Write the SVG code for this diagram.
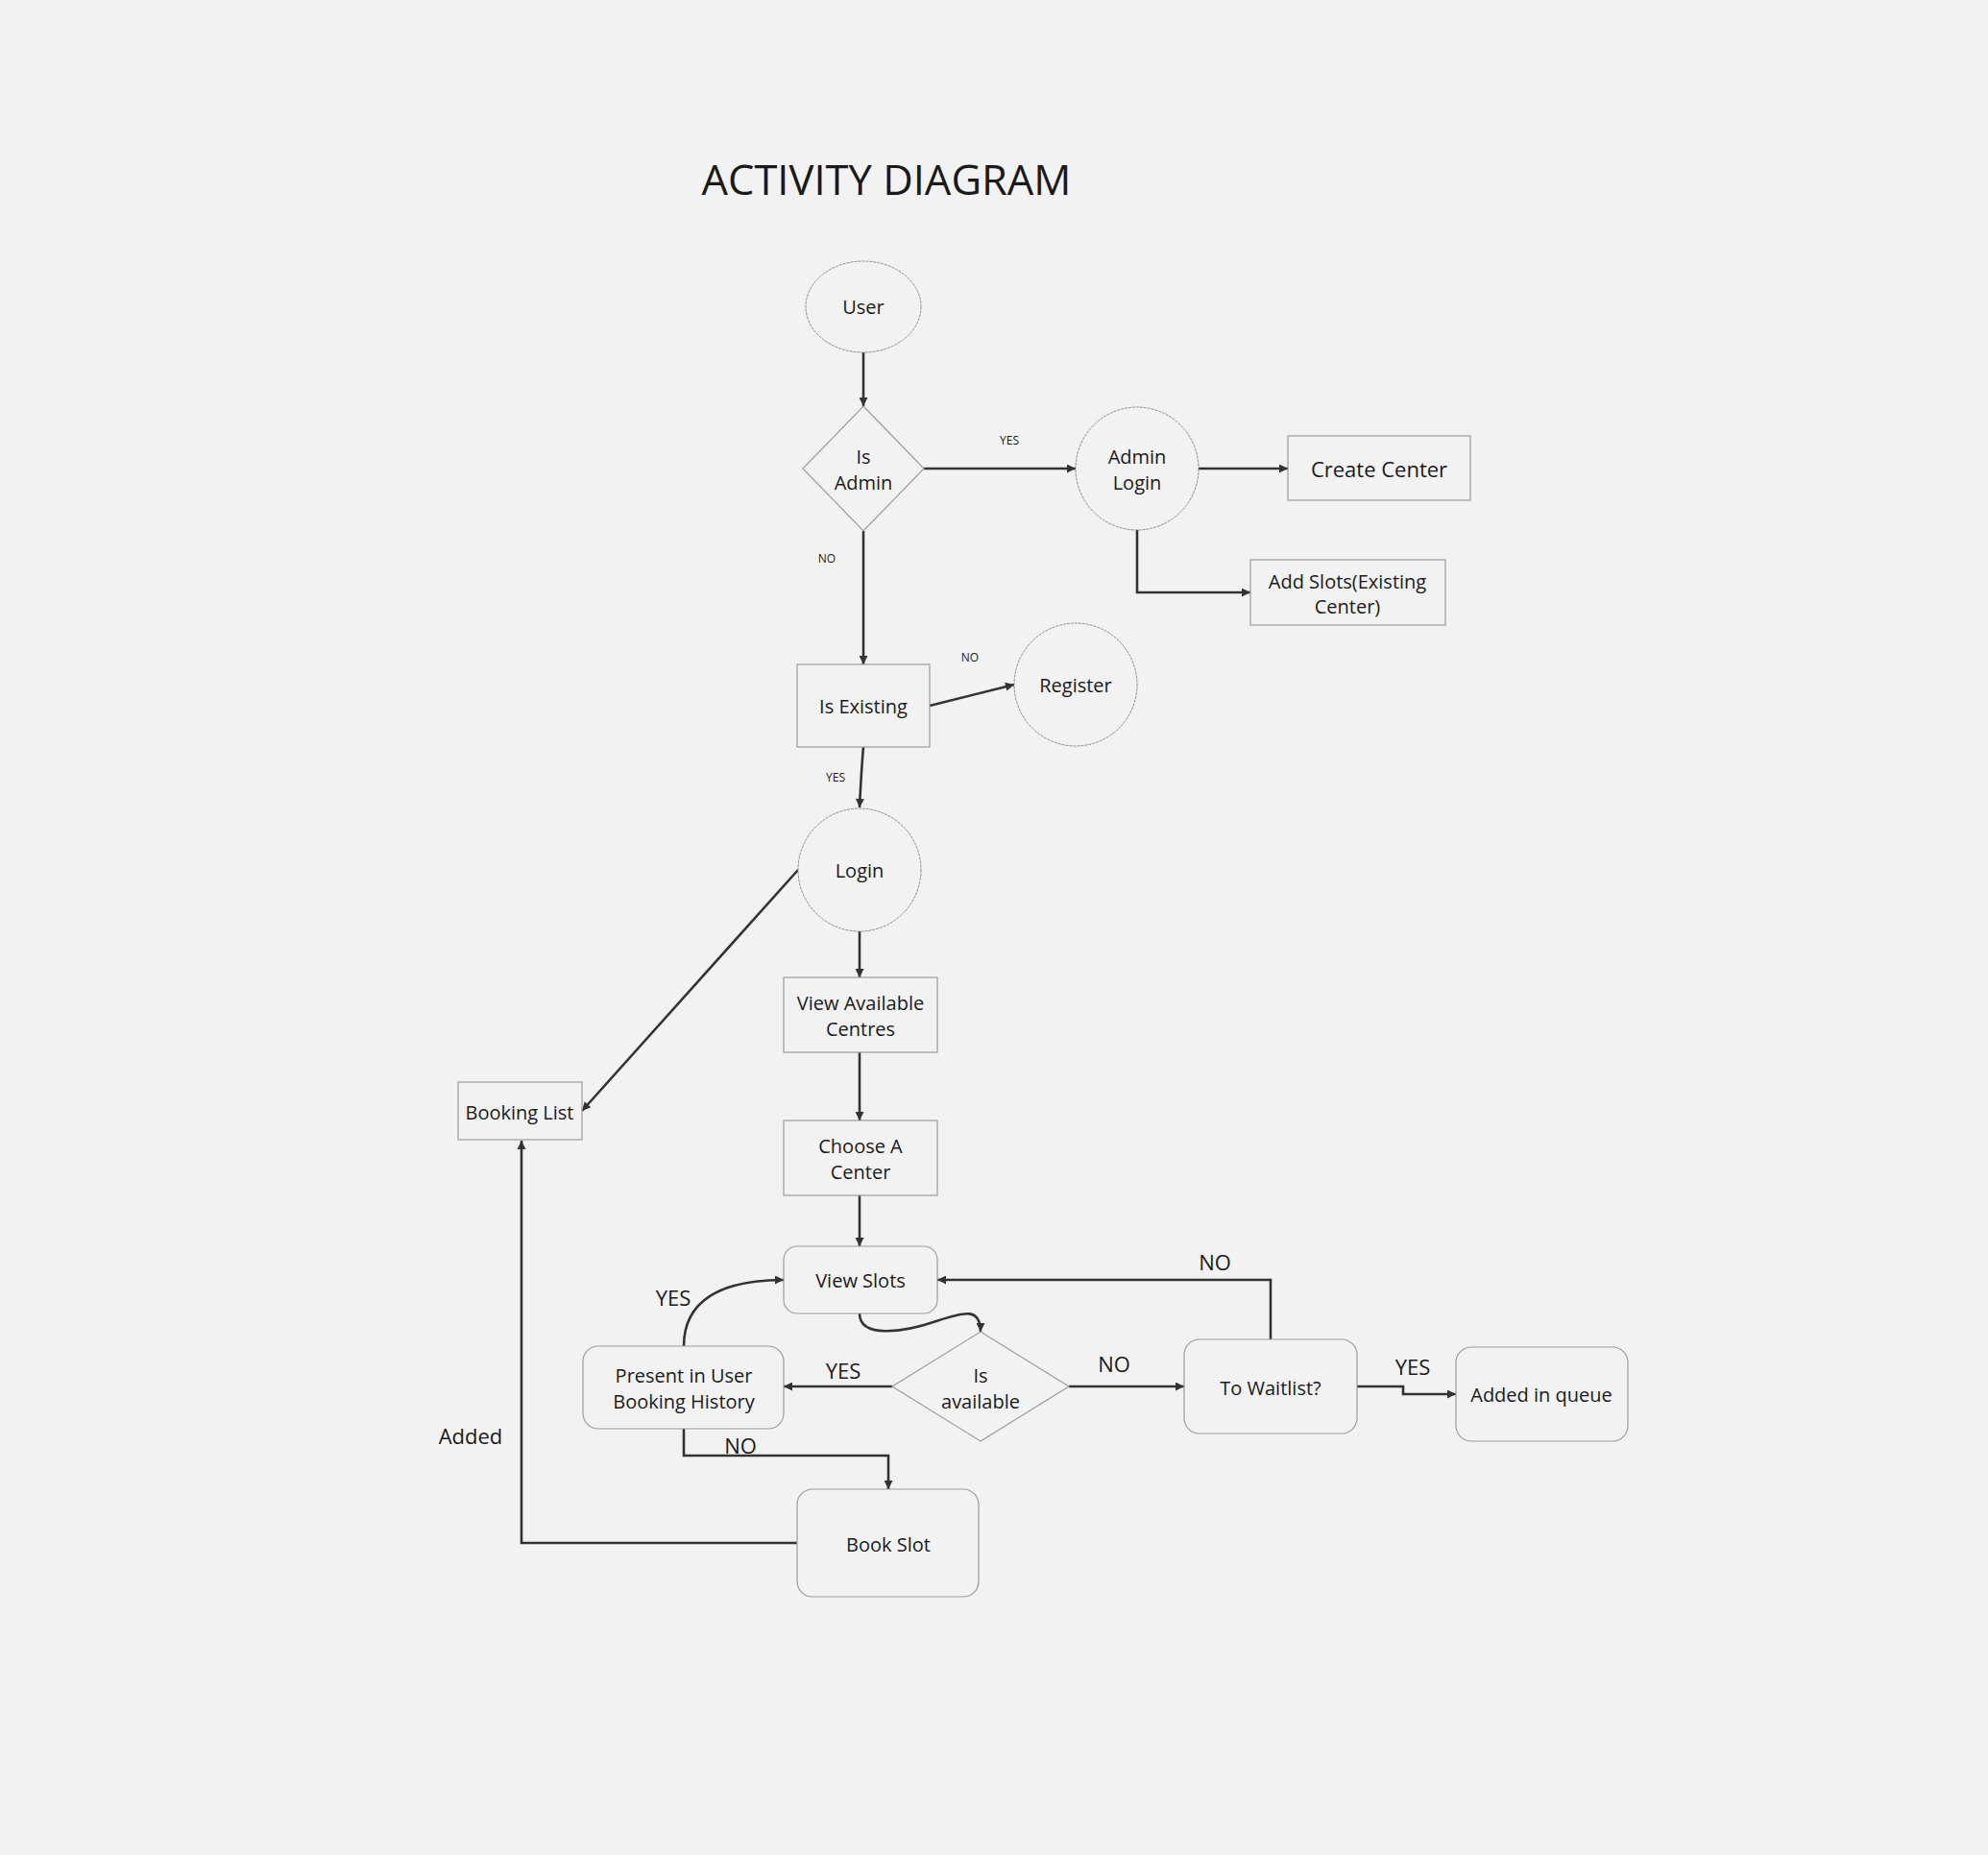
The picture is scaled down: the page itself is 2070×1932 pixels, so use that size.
<svg xmlns="http://www.w3.org/2000/svg" width="2070" height="1932" viewBox="0 0 2070 1932">
<defs>
<marker id="ah" viewBox="0 0 10 10" refX="10" refY="5" markerWidth="10" markerHeight="9" markerUnits="userSpaceOnUse" orient="auto">
<path d="M0,0 L10,5 L0,10 Z" fill="#333"/>
</marker>
<style>
.shape{fill:#f2f2f2;stroke:#9c9c9c;stroke-width:1.2}
.circ{fill:#f2f2f2;stroke:#8a8a8a;stroke-width:1;stroke-dasharray:3 1}
.t{font-family:"Open Sans","Noto Sans","Liberation Sans",sans-serif;font-size:20px;fill:#1a1a1a;text-anchor:middle}
.big{font-size:22px}
.sm{font-family:"Open Sans","Noto Sans","Liberation Sans",sans-serif;font-size:12px;fill:#1a1a1a;text-anchor:middle}
.lb{font-family:"Open Sans","Noto Sans","Liberation Sans",sans-serif;font-size:22px;fill:#1a1a1a;text-anchor:middle}
.c{fill:none;stroke:#333;stroke-width:2.6;marker-end:url(#ah)}
</style>
</defs>
<rect width="2070" height="1932" fill="#f2f2f2"/>
<text x="923" y="203" font-family="Open Sans,Noto Sans,Liberation Sans,sans-serif" font-size="43.5" fill="#1a1a1a" text-anchor="middle">ACTIVITY DIAGRAM</text>

<g id="connectors">
<path class="c" d="M899 367 L899 423"/>
<path class="c" d="M962 488 L1120 488"/>
<path class="c" d="M1248 488 L1341 488"/>
<path class="c" d="M1184 552 L1184 617 L1302 617"/>
<path class="c" d="M899 553 L899 692"/>
<path class="c" d="M968 735 L1056 713"/>
<path class="c" d="M899 778 Q897 800 895 841"/>
<path class="c" d="M895 970 L895 1018"/>
<path class="c" d="M831 906 L606 1157"/>
<path class="c" d="M895 1096 L895 1167"/>
<path class="c" d="M895 1245 L895 1298"/>
<path class="c" d="M895 1368 C895 1394 940 1388 975 1376 C1005 1366 1021 1362 1021 1387"/>
<path class="c" d="M929 1444 L816 1444"/>
<path class="c" d="M1113 1444 L1233 1444"/>
<path class="c" d="M1323 1395 L1323 1333 L976 1333"/>
<path class="c" d="M1413 1444 L1461 1444 L1461 1452 L1516 1452"/>
<path class="c" d="M712 1402 C712 1355 750 1333 816 1333"/>
<path class="c" d="M712 1488 L712 1516 L925 1516 L925 1551"/>
<path class="c" d="M830 1607 L543 1607 L543 1188"/>
<text class="sm" x="1051" y="463">YES</text>
<text class="sm" x="861" y="586">NO</text>
<text class="sm" x="1010" y="689">NO</text>
<text class="sm" x="870" y="814">YES</text>
<text class="lb" x="878" y="1436">YES</text>
<text class="lb" x="1160" y="1429">NO</text>
<text class="lb" x="1265" y="1323">NO</text>
<text class="lb" x="1471" y="1432">YES</text>
<text class="lb" x="701" y="1360">YES</text>
<text class="lb" x="771" y="1514">NO</text>
<text class="lb" x="490" y="1504">Added</text>
</g>

<g id="user"><ellipse class="circ" cx="899" cy="319.5" rx="60" ry="47.5"/><text class="t" x="899" y="327">User</text></g>
<g id="is-admin"><polygon class="shape" points="899,423 962,488 899,553 836,488"/><text class="t" x="899" y="483">Is</text><text class="t" x="899" y="510">Admin</text></g>
<g id="admin-login"><circle class="circ" cx="1184" cy="488" r="64"/><text class="t" x="1184" y="483">Admin</text><text class="t" x="1184" y="510">Login</text></g>
<g id="create-center"><rect class="shape" x="1341" y="454" width="190" height="67"/><text class="t big" x="1436" y="497">Create Center</text></g>
<g id="add-slots"><rect class="shape" x="1302" y="583" width="203" height="68"/><text class="t" x="1403" y="613">Add Slots(Existing</text><text class="t" x="1403" y="639">Center)</text></g>
<g id="is-existing"><rect class="shape" x="830" y="692" width="138" height="86"/><text class="t" x="899" y="743">Is Existing</text></g>
<g id="register"><circle class="circ" cx="1120" cy="713" r="64"/><text class="t" x="1120" y="721">Register</text></g>
<g id="login"><circle class="circ" cx="895" cy="906" r="64"/><text class="t" x="895" y="914">Login</text></g>
<g id="view-available-centres"><rect class="shape" x="816" y="1018" width="160" height="78"/><text class="t" x="896" y="1052">View Available</text><text class="t" x="896" y="1079">Centres</text></g>
<g id="choose-center"><rect class="shape" x="816" y="1167" width="160" height="78"/><text class="t" x="896" y="1201">Choose A</text><text class="t" x="896" y="1228">Center</text></g>
<g id="booking-list"><rect class="shape" x="477" y="1127" width="129" height="60"/><text class="t" x="541" y="1166">Booking List</text></g>
<g id="view-slots"><rect class="shape" x="816" y="1298" width="160" height="70" rx="14"/><text class="t" x="896" y="1341">View Slots</text></g>
<g id="is-available"><polygon class="shape" points="1021,1387 1113,1444 1021,1501 929,1444"/><text class="t" x="1021" y="1440">Is</text><text class="t" x="1021" y="1467">available</text></g>
<g id="present-history"><rect class="shape" x="607" y="1402" width="209" height="86" rx="16"/><text class="t" x="712" y="1440">Present in User</text><text class="t" x="712" y="1467">Booking History</text></g>
<g id="to-waitlist"><rect class="shape" x="1233" y="1395" width="180" height="98" rx="16"/><text class="t" x="1323" y="1453">To Waitlist?</text></g>
<g id="added-queue"><rect class="shape" x="1516" y="1403" width="179" height="98" rx="16"/><text class="t" x="1605" y="1460">Added in queue</text></g>
<g id="book-slot"><rect class="shape" x="830" y="1551" width="189" height="112" rx="16"/><text class="t" x="925" y="1616">Book Slot</text></g>
</svg>
